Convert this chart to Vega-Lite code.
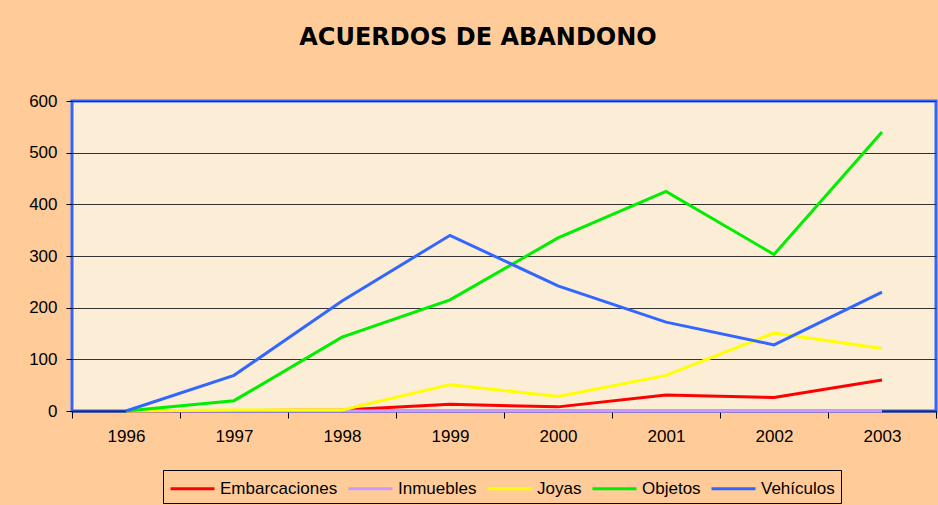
{
  "$schema": "https://vega.github.io/schema/vega-lite/v6.json",
  "width": 864,
  "height": 310,
  "autosize": "none",
  "padding": {"left": 72, "top": 101, "right": 2, "bottom": 94},
  "background": "#FFCC99",
  "title": {
    "text": "ACUERDOS DE ABANDONO",
    "font": "DejaVu Sans",
    "fontSize": 24,
    "fontWeight": "bold",
    "color": "#000000",
    "anchor": "middle",
    "baseline": "alphabetic",
    "offset": 23,
    "dx": -26
  },
  "config": {
    "view": {"fill": "#FBEDD6", "stroke": "#3366FF", "strokeWidth": 3},
    "font": "Liberation Sans"
  },
  "data": {
    "values": [
      {"year": "1996", "serie": "Embarcaciones", "value": 0},
      {"year": "1997", "serie": "Embarcaciones", "value": 1},
      {"year": "1998", "serie": "Embarcaciones", "value": 2},
      {"year": "1999", "serie": "Embarcaciones", "value": 13},
      {"year": "2000", "serie": "Embarcaciones", "value": 8},
      {"year": "2001", "serie": "Embarcaciones", "value": 31},
      {"year": "2002", "serie": "Embarcaciones", "value": 26},
      {"year": "2003", "serie": "Embarcaciones", "value": 60},
      {"year": "1996", "serie": "Inmuebles", "value": 0},
      {"year": "1997", "serie": "Inmuebles", "value": 0},
      {"year": "1998", "serie": "Inmuebles", "value": 0},
      {"year": "1999", "serie": "Inmuebles", "value": 0},
      {"year": "2000", "serie": "Inmuebles", "value": 0},
      {"year": "2001", "serie": "Inmuebles", "value": 0},
      {"year": "2002", "serie": "Inmuebles", "value": 0},
      {"year": "2003", "serie": "Inmuebles", "value": 0},
      {"year": "1996", "serie": "Joyas", "value": 0},
      {"year": "1997", "serie": "Joyas", "value": 2},
      {"year": "1998", "serie": "Joyas", "value": 2},
      {"year": "1999", "serie": "Joyas", "value": 51},
      {"year": "2000", "serie": "Joyas", "value": 28},
      {"year": "2001", "serie": "Joyas", "value": 69},
      {"year": "2002", "serie": "Joyas", "value": 151},
      {"year": "2003", "serie": "Joyas", "value": 121},
      {"year": "1996", "serie": "Objetos", "value": 0},
      {"year": "1997", "serie": "Objetos", "value": 20},
      {"year": "1998", "serie": "Objetos", "value": 143},
      {"year": "1999", "serie": "Objetos", "value": 215},
      {"year": "2000", "serie": "Objetos", "value": 335},
      {"year": "2001", "serie": "Objetos", "value": 425},
      {"year": "2002", "serie": "Objetos", "value": 303},
      {"year": "2003", "serie": "Objetos", "value": 540},
      {"year": "1996", "serie": "Vehículos", "value": 0},
      {"year": "1997", "serie": "Vehículos", "value": 69},
      {"year": "1998", "serie": "Vehículos", "value": 213},
      {"year": "1999", "serie": "Vehículos", "value": 340},
      {"year": "2000", "serie": "Vehículos", "value": 242},
      {"year": "2001", "serie": "Vehículos", "value": 172},
      {"year": "2002", "serie": "Vehículos", "value": 128},
      {"year": "2003", "serie": "Vehículos", "value": 230}
    ]
  },
  "mark": {"type": "line", "strokeWidth": 3},
  "encoding": {
    "x": {
      "field": "year",
      "type": "ordinal",
      "scale": {"type": "band", "paddingInner": 0, "paddingOuter": 0},
      "axis": {
        "title": null,
        "labelAngle": 0,
        "labelFontSize": 17,
        "labelColor": "#000000",
        "labelPadding": 10,
        "tickBand": "extent",
        "tickSize": 7,
        "tickColor": "#000000",
        "domainColor": "#1A2A60",
        "domainWidth": 2,
        "grid": false
      }
    },
    "y": {
      "field": "value",
      "type": "quantitative",
      "scale": {"domain": [0, 600], "nice": false},
      "axis": {
        "title": null,
        "values": [0, 100, 200, 300, 400, 500, 600],
        "labelFontSize": 17,
        "labelColor": "#000000",
        "labelPadding": 9,
        "tickSize": 6,
        "tickColor": "#000000",
        "domain": false,
        "grid": true,
        "gridColor": "#333333",
        "gridWidth": 1,
        "gridOpacity": 1
      }
    },
    "color": {
      "field": "serie",
      "type": "nominal",
      "scale": {
        "domain": ["Embarcaciones", "Inmuebles", "Joyas", "Objetos", "Vehículos"],
        "range": ["#FF0000", "#CC99FF", "#FFFF00", "#00EE00", "#3366FF"]
      },
      "legend": {
        "title": null,
        "orient": "none",
        "legendX": 91,
        "legendY": 369,
        "direction": "horizontal",
        "columns": 5,
        "symbolType": "M-2,0H2",
        "symbolSize": 484,
        "symbolStrokeWidth": 3,
        "symbolOffset": 11,
        "labelFontSize": 17,
        "labelColor": "#000000",
        "labelOffset": 15,
        "columnPadding": 4,
        "padding": 6,
        "strokeColor": "#000000",
        "fillColor": "#FFCC99"
      }
    }
  }
}
